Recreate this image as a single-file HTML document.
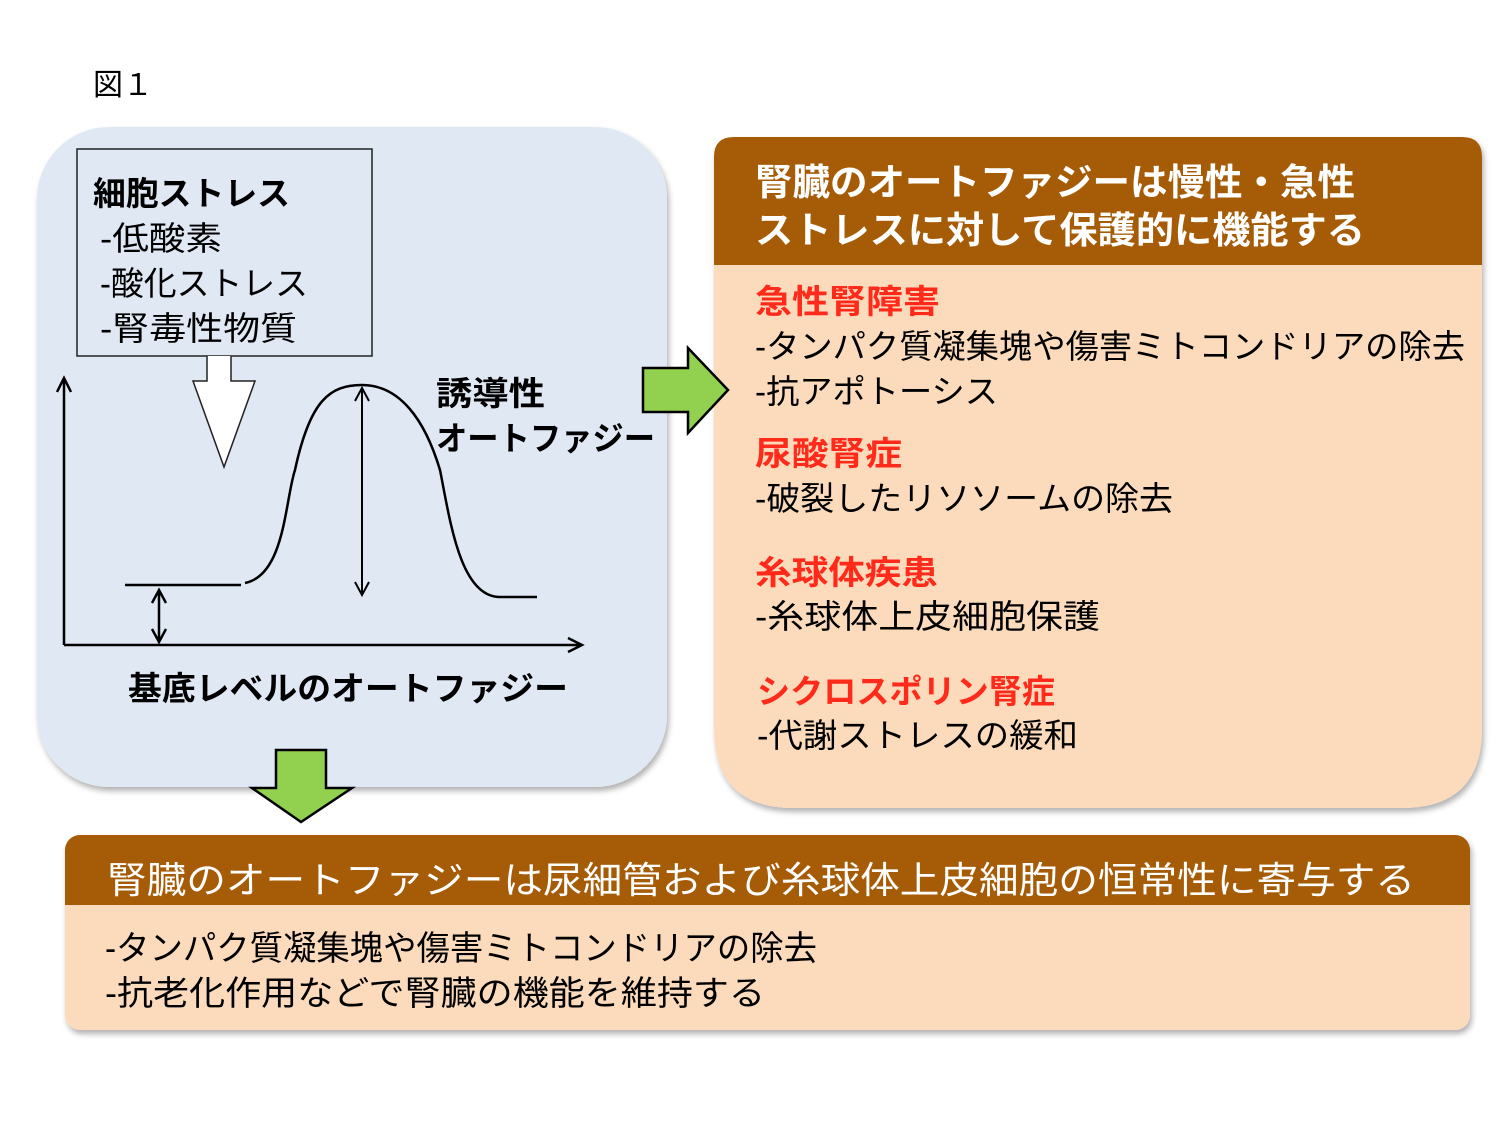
<!DOCTYPE html>
<html><head><meta charset="utf-8"><style>
html,body{margin:0;padding:0;background:#fff;width:1500px;height:1125px;overflow:hidden}
svg text{font-family:"Liberation Sans","Noto Sans CJK JP",sans-serif}
</style></head><body>
<svg width="1500" height="1125" viewBox="0 0 1500 1125" xmlns="http://www.w3.org/2000/svg">
<defs>
<filter id="sh" x="-5%" y="-5%" width="110%" height="115%"><feDropShadow dx="2" dy="4" stdDeviation="3" flood-color="#000" flood-opacity="0.3"/></filter>
<clipPath id="rc"><path d="M734,137 H1462 Q1482,137 1482,157 V728 Q1482,808 1402,808 H794 Q714,808 714,728 V157 Q714,137 734,137 Z"/></clipPath>
<clipPath id="bc"><rect x="65" y="835" width="1405" height="195" rx="15"/></clipPath>
</defs>
<text x="93" y="95" font-size="30" fill="#000">図１</text>

<!-- left panel -->
<rect x="37" y="127" width="630" height="660" rx="72" fill="#dfe8f3" filter="url(#sh)"/>
<rect x="77" y="149" width="295" height="207" fill="none" stroke="#222" stroke-width="1.5"/>
<text x="93" y="205" font-size="33" font-weight="bold" textLength="197" lengthAdjust="spacingAndGlyphs">細胞ストレス</text>
<text x="100" y="250" font-size="33" textLength="122" lengthAdjust="spacingAndGlyphs">-低酸素</text>
<text x="100" y="295" font-size="33" textLength="208" lengthAdjust="spacingAndGlyphs">-酸化ストレス</text>
<text x="100" y="340" font-size="33" textLength="197" lengthAdjust="spacingAndGlyphs">-腎毒性物質</text>
<path d="M207,356 V381 H193 L224,467 L255,381 H231 V356" fill="#fff" stroke="#222" stroke-width="1.5"/>
<g stroke="#000" stroke-width="2.5" fill="none">
<path d="M64,645 V380 M57,392 L64,378 L71,392"/>
<path d="M64,645 H582 M568,638 L582,645 L568,652"/>
<path d="M125,585 H241"/>
<path d="M245,583 C285,575 285,500 295,470 C310,400 330,385 362,385 C400,385 425,420 440,470 C450,520 460,597 500,597 H537"/>
<path d="M159,590 V642 M152,603 L159,590 L166,603 M152,629 L159,642 L166,629"/>
<path d="M362,388 V595 M355,401 L362,388 L369,401 M355,582 L362,595 L369,582" stroke-width="2"/>
</g>
<text x="436" y="405" font-size="33" font-weight="bold" textLength="109" lengthAdjust="spacingAndGlyphs">誘導性</text>
<text x="436" y="450" font-size="33" font-weight="bold" textLength="219" lengthAdjust="spacingAndGlyphs">オートファジー</text>
<text x="128" y="700" font-size="33" font-weight="bold" textLength="440" lengthAdjust="spacingAndGlyphs">基底レベルのオートファジー</text>

<!-- right panel -->
<g filter="url(#sh)"><path d="M734,137 H1462 Q1482,137 1482,157 V728 Q1482,808 1402,808 H794 Q714,808 714,728 V157 Q714,137 734,137 Z" fill="#fcdbbd"/></g>
<rect x="714" y="137" width="768" height="128" fill="#a65c07" clip-path="url(#rc)"/>
<text x="755" y="195" font-size="37" font-weight="bold" fill="#fff" textLength="600" lengthAdjust="spacingAndGlyphs">腎臓のオートファジーは慢性・急性</text>
<text x="755" y="243" font-size="37" font-weight="bold" fill="#fff" textLength="610" lengthAdjust="spacingAndGlyphs">ストレスに対して保護的に機能する</text>
<g font-size="33">
<text x="755" y="313" font-weight="bold" fill="#ff2a1a" textLength="185" lengthAdjust="spacingAndGlyphs">急性腎障害</text>
<text x="755" y="358" textLength="710" lengthAdjust="spacingAndGlyphs">-タンパク質凝集塊や傷害ミトコンドリアの除去</text>
<text x="755" y="403" textLength="243" lengthAdjust="spacingAndGlyphs">-抗アポトーシス</text>
<text x="755" y="465" font-weight="bold" fill="#ff2a1a" textLength="147" lengthAdjust="spacingAndGlyphs">尿酸腎症</text>
<text x="755" y="510" textLength="418" lengthAdjust="spacingAndGlyphs">-破裂したリソソームの除去</text>
<text x="755" y="584" font-weight="bold" fill="#ff2a1a" textLength="183" lengthAdjust="spacingAndGlyphs">糸球体疾患</text>
<text x="755" y="628" textLength="345" lengthAdjust="spacingAndGlyphs">-糸球体上皮細胞保護</text>
<text x="757" y="703" font-weight="bold" fill="#ff2a1a" textLength="298" lengthAdjust="spacingAndGlyphs">シクロスポリン腎症</text>
<text x="757" y="747" textLength="321" lengthAdjust="spacingAndGlyphs">-代謝ストレスの緩和</text>
</g>

<!-- arrows -->
<path d="M643,368 H688 V348 L728,390 L688,433 V412 H643 Z" fill="#92d050" stroke="#000" stroke-width="2.5"/>
<path d="M276,750 H326 V788 H352 L301,822 L252,788 H276 Z" fill="#92d050" stroke="#000" stroke-width="2.5"/>

<!-- bottom panel -->
<rect x="65" y="835" width="1405" height="195" rx="15" fill="#fcdbbd" filter="url(#sh)"/>
<rect x="65" y="835" width="1405" height="70" fill="#a65c07" clip-path="url(#bc)"/>
<text x="107" y="893" font-size="37" fill="#fff" textLength="1308" lengthAdjust="spacingAndGlyphs">腎臓のオートファジーは尿細管および糸球体上皮細胞の恒常性に寄与する</text>
<text x="105" y="960" font-size="34" textLength="712" lengthAdjust="spacingAndGlyphs">-タンパク質凝集塊や傷害ミトコンドリアの除去</text>
<text x="105" y="1005" font-size="34" textLength="660" lengthAdjust="spacingAndGlyphs">-抗老化作用などで腎臓の機能を維持する</text>
</svg>
</body></html>
